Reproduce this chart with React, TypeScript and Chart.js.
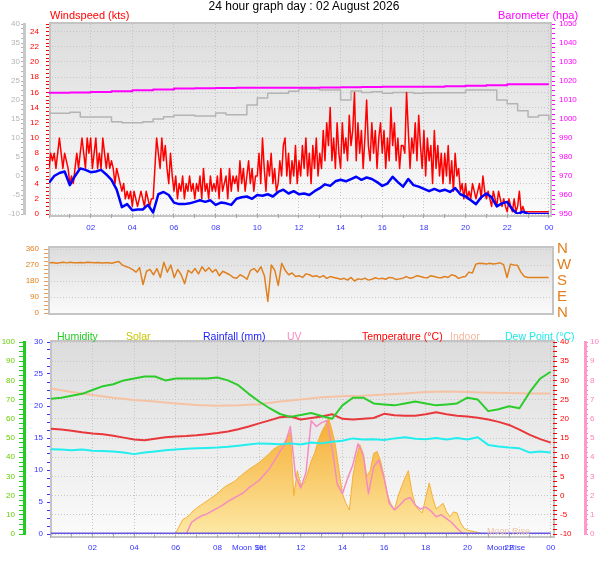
import { useEffect, useRef } from "react"
import { Chart, registerables } from "chart.js"

Chart.register(...registerables)

const FONT = "'Liberation Sans', Arial, sans-serif"

// hour axis labels (every 2 hours, 02 .. 00)
const hourLabels = ["02", "04", "06", "08", "10", "12", "14", "16", "18", "20", "22", "00"]
const compassLabels: Record<number, string> = { 0: "N", 90: "E", 180: "S", 270: "W", 360: "N" }

// ---------------- windspeed / barometer ----------------
// gust (kts), 5 minute samples, one row per hour
const windGust = [
  6, 8, 7, 8, 6, 8, 10, 8, 6, 8, 7, 6,
  4, 5, 4, 6, 8, 6, 8, 10, 8, 6, 10, 8,
  10, 6, 8, 10, 6, 8, 6, 10, 8, 6, 8, 6,
  7, 6, 4, 6, 5, 4, 3, 4, 2, 3, 2, 3,
  1, 3, 2, 1, 2, 3, 2, 1, 3, 2, 1, 2,
  2, 6, 10, 8, 6, 10, 7, 9, 6, 4, 8, 5,
  3, 5, 2, 4, 3, 5, 2, 4, 3, 5, 3, 4,
  2, 4, 3, 5, 2, 6, 3, 4, 2, 5, 3, 4,
  3, 5, 2, 6, 3, 4, 5, 2, 6, 3, 5, 4,
  5, 3, 7, 4, 6, 3, 5, 7, 4, 6, 3, 5,
  5, 8, 4, 10, 6, 3, 7, 5, 8, 4, 6, 3,
  4, 7, 5, 9, 10, 5, 8, 4, 7, 5, 9, 4,
  7, 5, 9, 6, 10, 5, 8, 4, 9, 6, 10, 5,
  8, 6, 11, 7, 12, 9, 14, 7, 10, 6, 12, 8,
  6, 12, 8, 10, 7, 13, 9, 11, 16, 7, 12, 8,
  11, 6, 10, 15, 9, 7, 12, 8, 11, 6, 10, 12,
  8, 11, 6, 10, 7, 14, 9, 12, 7, 10, 6, 9,
  9, 8, 16, 11, 6, 10, 8, 12, 7, 13, 9, 6,
  11, 5, 10, 7, 9, 4, 11, 6, 9, 5, 8, 4,
  8, 5, 9, 4, 7, 3, 8, 5, 6, 3, 4, 2,
  4, 2, 3, 2, 4, 3, 2, 3, 4, 2, 5, 3,
  2, 3, 2, 1, 3, 2, 1, 3, 2, 1, 2, 1,
  0.3, 2, 1, 0.3, 2, 0.3, 1, 3, 0.3, 1, 0.3, 0.3,
  0.3, 0.3, 0.3, 0.3, 0.3, 0.3, 0.3, 0.3, 0.3, 0.3, 0.3, 0.3,
  0.3,
]

// average speed (kts), 15 minute samples
const windAvg = [
  4.1, 5.0, 5.4, 5.6,
  3.8, 5.0, 6.0, 5.8,
  5.5, 5.6, 5.8, 5.2,
  4.5, 3.2, 0.9, 1.3,
  0.5, 0.6, 0.6, 1.2,
  0.2, 2.6, 2.9, 2.5,
  1.5, 1.3, 1.3, 1.4,
  1.6, 1.8, 1.6, 1.8,
  1.2, 1.5, 1.4, 1.2,
  2.0, 2.2, 2.3, 2.0,
  2.5, 2.4, 2.6, 2.3,
  2.9, 3.2, 2.7, 3.0,
  2.6, 2.7, 2.5, 3.0,
  3.4, 3.9, 3.7, 4.3,
  4.5, 4.3, 4.6, 4.9,
  4.5, 4.8, 4.6, 4.2,
  3.7, 4.0, 4.9, 4.2,
  3.6, 4.6, 3.8, 3.6,
  3.3, 3.0, 3.3, 3.0,
  3.2, 2.9, 3.4, 2.6,
  2.3, 1.8, 1.3, 2.2,
  2.7, 2.2, 1.0, 1.4,
  1.6, 0.6, 0.0, 0.3,
  0, 0, 0, 0,
  0,
]

// grey trace on the -10..40 scale, 30 minute samples
const greyTrace = [
  16.5, 16.5, 16.8, 15.5, 15.5, 15.5, 14.3, 14.0, 14.0, 14.3,
  15.0, 15.6, 16.0, 16.0, 15.8, 15.8, 16.6, 16.1, 16.1, 18.7,
  20.5, 21.8, 21.8, 22.3, 22.9, 22.9, 22.6, 22.6, 20.0, 22.4,
  22.0, 22.2, 21.8, 22.0, 22.0, 21.8, 21.9, 21.9, 21.9, 21.9,
  22.6, 22.6, 22.6, 20.0, 19.0, 17.2, 15.5, 16.0, 14.7,
]

// barometer (hpa), hourly
const barometer = [
  1013.8, 1013.9, 1014.2, 1014.6, 1015.1, 1015.5, 1016.0, 1016.2, 1016.3, 1016.4,
  1016.5, 1016.5, 1016.5, 1016.6, 1016.7, 1016.8, 1017.0, 1017.0, 1017.0, 1017.2,
  1017.5, 1017.8, 1018.3, 1018.3, 1018.3,
]

// ---------------- wind direction ----------------
// degrees, 10 minute samples, one row per hour
const windDir = [
  282, 284, 280, 283, 285, 282,
  285, 283, 282, 284, 283, 285,
  284, 282, 284, 281, 283, 282,
  280, 285, 290, 270, 262, 255,
  244, 230, 255, 160, 235, 245,
  215, 250, 200, 285, 230, 270,
  200, 245, 215, 165, 240, 225,
  250, 220, 260, 235, 255, 230,
  245, 210, 235, 225, 215, 200,
  195, 215, 205, 190, 240, 250,
  230, 260, 210, 65, 270, 240,
  155, 280, 240, 215, 225, 205,
  210, 200, 220, 215, 205, 210,
  200, 210, 195, 205, 200, 195,
  190, 195, 185, 200, 180, 192,
  188, 196, 185, 190, 198, 192,
  195, 190, 200, 198, 188, 192,
  196, 205, 195, 200, 210, 205,
  200, 198, 210, 205, 200, 198,
  205, 200, 215, 210, 195, 202,
  205, 230, 225, 275, 280, 278,
  275, 280, 276, 278, 282, 272,
  200, 275, 270, 268, 230, 205,
  200, 200, 200, 200, 200, 200,
  200,
]

// ---------------- temperature / humidity / solar ----------------
// humidity (%), 30 minute samples
const humidity = [
  70.5, 71, 72, 73, 75, 77, 78, 80, 81, 82,
  82, 80, 81, 81, 81, 81, 81.5, 80, 77.5, 73,
  69, 65.5, 62.5, 61, 62, 63, 61.5, 60, 67, 71,
  71, 68, 67.5, 67, 68, 69, 68, 67, 67.5, 68,
  71, 70, 64, 65, 66.5, 65.5, 74, 81, 84.5,
]

// outdoor temperature (°C), 30 minute samples
const temperature = [
  17.4, 17.2, 16.9, 16.5, 16.2, 16.0, 15.6, 15.1, 14.6, 14.4,
  14.8, 15.2, 15.4, 15.5, 15.7, 16.0, 16.3, 16.7, 17.3, 18.0,
  18.8, 19.6, 20.4, 20.6, 19.8, 20.2, 20.6, 21.2, 20.0, 19.8,
  20.0, 20.2, 21.3, 20.9, 20.8, 20.8, 21.2, 21.7, 21.2, 20.8,
  20.6, 20.3, 19.8, 19.2, 18.4, 17.2, 15.8, 14.7, 13.8,
]

// dew point (°C), 30 minute samples
const dewPoint = [
  12.1, 12.0, 11.8, 12.0, 11.7, 11.6, 11.5, 11.2, 10.8, 11.2,
  11.5, 11.8, 12.0, 12.2, 12.3, 12.4, 12.5, 12.7, 13.0, 13.3,
  13.6, 13.5, 13.4, 13.6, 13.3, 13.8, 13.6, 14.0, 14.3, 14.9,
  14.6, 14.7, 14.5, 14.9, 15.2, 14.8, 14.7, 15.0, 14.6, 15.0,
  14.6, 15.2, 13.2, 12.8, 12.5, 12.3, 11.2, 11.5, 11.2,
]

// indoor temperature (°C), hourly
const indoorTemp = [
  27.9, 27.0, 26.2, 25.5, 24.9, 24.5, 24.0, 23.6, 23.4, 23.5,
  23.8, 24.5, 25.0, 25.6, 25.9, 26.0, 26.3, 26.6, 27.0, 27.1,
  27.0, 26.8, 26.7, 26.6, 26.6,
]

// solar radiation (W/m2), 10 minute samples, one row per hour
const solar = [
  0, 0, 0, 0, 0, 0,
  0, 0, 0, 0, 0, 0,
  0, 0, 0, 0, 0, 0,
  0, 0, 0, 0, 0, 0,
  0, 0, 0, 0, 0, 0,
  0, 0, 0, 0, 0, 0,
  5, 40, 75, 85, 100, 120,
  135, 148, 160, 172, 185, 198,
  210, 228, 244, 255, 265, 275,
  292, 307, 322, 336, 348, 360,
  372, 388, 404, 420, 440, 452,
  460, 470, 500, 531, 200, 330,
  255, 266, 320, 380, 422, 485,
  531, 565, 604, 540, 460, 333,
  210, 160, 125, 300, 400, 465,
  420, 300, 330, 420, 430, 380,
  300, 200, 155, 125, 195, 245,
  292, 330, 220, 150, 125, 110,
  190, 266, 190, 130, 145, 160,
  115, 90, 115, 110, 60, 30,
  20, 16, 12, 8, 3, 0,
  0, 0, 0, 0, 0, 0,
  0, 0, 0, 0, 0, 0,
  0, 0, 0, 0, 0, 0,
  0,
]

// UV index, 15 minute samples
const uvIndex = [
  0, 0, 0, 0, 0, 0, 0, 0, 0, 0, 0, 0,
  0, 0, 0, 0, 0, 0, 0, 0, 0, 0, 0, 0,
  0, 0, 0, 0.6,
  0.8, 0.95, 1.05, 1.2,
  1.35, 1.5, 1.7, 1.85,
  2.0, 2.15, 2.4, 2.6,
  2.8, 3.1, 3.4, 3.85,
  4.3, 4.7, 5.6, 3.0,
  2.4, 3.2, 5.9, 5.6,
  5.8, 5.9, 4.5, 2.6,
  2.1, 2.9, 3.6, 4.7,
  4.1, 2.1, 3.5, 3.85,
  2.9, 1.6, 1.25, 1.5,
  1.8, 1.9, 1.5, 1.3,
  1.4, 1.2, 0.9, 1.0,
  0.8, 0.6, 0.3, 0.05,
  0, 0, 0, 0, 0, 0, 0, 0, 0, 0, 0, 0, 0, 0, 0, 0,
  0,
]

// rainfall (mm), hourly
const rainfall = [0, 0, 0, 0, 0, 0, 0, 0, 0, 0, 0, 0, 0, 0, 0, 0, 0, 0, 0, 0, 0, 0, 0, 0, 0]

// evenly spaced samples over the 24 hours
function series(values: number[]) {
  const step = 24 / (values.length - 1)
  return values.map((y, i) => ({ x: i * step, y }))
}

const onMultiple = (v: number, m: number) => Math.abs(v / m - Math.round(v / m)) < 1e-6

const panelBox = {
  id: "panelBox",
  beforeDraw(chart: any, _args: any, o: any) {
    const a = chart.chartArea
    if (!a) return
    const { ctx } = chart
    const l = a.left - (o.l || 0)
    const r = a.right + (o.r || 0)
    const t = a.top - (o.t || 0)
    const b = a.bottom + (o.b || 0)
    const g = ctx.createLinearGradient(0, t, 0, b)
    g.addColorStop(0, "#dcdcdc")
    g.addColorStop(0.5, "#ebebeb")
    g.addColorStop(1, "#fbfbfb")
    ctx.save()
    ctx.fillStyle = g
    ctx.fillRect(l, t, r - l, b - t)
    ctx.strokeStyle = "#c4c4c4"
    ctx.lineWidth = 2
    ctx.strokeRect(l + 1, t + 1, r - l - 2, b - t - 2)
    ctx.restore()
  },
}

type AxisOpts = {
  position: "left" | "right"
  weight?: number
  width: number
  min: number
  max: number
  step: number
  every: number
  color: string
  tickColor?: string
  tickLength: number
  padding: number
  border?: { color: string; width: number }
  grid?: boolean
  fontSize?: number
  label?: (v: number) => string
}

function yAxis(o: AxisOpts) {
  return {
    type: "linear",
    position: o.position,
    weight: o.weight ?? 0,
    min: o.min,
    max: o.max,
    afterFit: (s: any) => {
      s.width = o.width
    },
    border: { display: !!o.border, color: o.border?.color, width: o.border?.width ?? 1, dash: [1, 2] },
    grid: {
      drawOnChartArea: !!o.grid,
      drawTicks: o.tickLength > 0,
      tickLength: o.tickLength,
      tickColor: o.tickColor ?? o.color,
      color: (c: any) => (c.tick && onMultiple(c.tick.value, o.every) ? "#c8c8c8" : "rgba(0,0,0,0)"),
    },
    ticks: {
      stepSize: o.step,
      includeBounds: false,
      autoSkip: false,
      padding: o.padding,
      color: o.color,
      font: { family: FONT, size: o.fontSize ?? 8 },
      callback: (v: any) => {
        const n = Number(v)
        if (!onMultiple(n, o.every)) return ""
        return o.label ? o.label(n) : String(Math.round(n))
      },
    },
  }
}

function timeAxis(min: number, max: number, height: number) {
  return {
    type: "linear",
    min,
    max,
    afterFit: (s: any) => {
      s.height = height
    },
    border: { display: false, dash: [1, 2] },
    grid: {
      tickLength: 4,
      tickColor: "#a8a8a8",
      color: (c: any) => (c.tick && c.tick.value % 2 === 0 ? "#c4c4c4" : "rgba(0,0,0,0)"),
    },
    ticks: {
      stepSize: 1,
      includeBounds: false,
      autoSkip: false,
      maxRotation: 0,
      padding: 5,
      color: "#3333ff",
      font: { family: FONT, size: 8 },
      callback: (v: any) => {
        const n = Number(v)
        return n > 0 && n % 2 === 0 ? hourLabels[n / 2 - 1] : ""
      },
    },
  }
}

function baseOptions(padding: any, box: any, scales: any) {
  return {
    responsive: false,
    maintainAspectRatio: false,
    animation: false,
    events: [],
    layout: { padding },
    elements: {
      point: { radius: 0 },
      line: { tension: 0, borderJoinStyle: "round", fill: false },
    },
    plugins: { legend: { display: false }, tooltip: { enabled: false }, panelBox: box },
    scales,
  }
}

function windConfig(): any {
  return {
    type: "line",
    data: {
      datasets: [
        { data: series(windAvg), yAxisID: "kts", borderColor: "#0000ff", borderWidth: 2.5 },
        { data: series(windGust), yAxisID: "kts", borderColor: "#ff0000", borderWidth: 1.5 },
        { data: series(barometer), yAxisID: "hpa", borderColor: "#ff00ff", borderWidth: 2, stepped: true },
        { data: series(greyTrace), yAxisID: "grey", borderColor: "#b4b4b4", borderWidth: 1.5, stepped: true },
      ],
    },
    options: baseOptions({ top: 24, left: 0, right: 0, bottom: 0 }, { t: 2, b: 3 }, {
      x: timeAxis(0, 24.15, 22),
      kts: yAxis({ position: "left", weight: 0, width: 25, min: 0, max: 25, step: 0.5, every: 2, color: "#ff0000", tickLength: 3, padding: 7, grid: true }),
      grey: yAxis({ position: "left", weight: 1, width: 24, min: -10, max: 40, step: 1.25, every: 5, color: "#b4b4b4", tickLength: 3, padding: 1, border: { color: "#c8c8c8", width: 3 } }),
      hpa: yAxis({ position: "right", width: 56, min: 950, max: 1050, step: 2.5, every: 10, color: "#ff00ff", tickLength: 3, padding: 4 }),
    }),
    plugins: [panelBox],
  }
}

function directionConfig(): any {
  return {
    type: "line",
    data: {
      datasets: [{ data: series(windDir), yAxisID: "deg", borderColor: "#e08020", borderWidth: 1.5 }],
    },
    options: baseOptions({ top: 9, left: 0, right: 0, bottom: 12 }, { t: 3, b: 2, r: 1 }, {
      x: { type: "linear", display: false, min: -0.07, max: 24.21 },
      deg: yAxis({ position: "left", width: 48, min: 0, max: 360, step: 22.5, every: 90, color: "#e08020", tickColor: "#e8a060", tickLength: 4, padding: 5, grid: true }),
      compass: yAxis({ position: "right", width: 55, min: 0, max: 360, step: 90, every: 90, color: "#e08020", tickLength: 0, padding: 4, fontSize: 15, label: (v) => compassLabels[v] }),
    }),
    plugins: [panelBox],
  }
}

function solarFill(c: any) {
  const { chart } = c
  const area = chart.chartArea
  if (!area) return "#f8d070"
  const g = chart.ctx.createLinearGradient(0, area.top + area.height * 0.4, 0, area.bottom)
  g.addColorStop(0, "#f5ad33")
  g.addColorStop(1, "#fde8a4")
  return g
}

function climateConfig(): any {
  return {
    type: "line",
    data: {
      datasets: [
        { data: series(rainfall), yAxisID: "rain", borderColor: "#6658e0", borderWidth: 3 },
        { data: series(humidity), yAxisID: "hum", borderColor: "#2ccc2c", borderWidth: 2 },
        { data: series(temperature), yAxisID: "temp", borderColor: "#e8383c", borderWidth: 2 },
        { data: series(dewPoint), yAxisID: "temp", borderColor: "#22eeee", borderWidth: 2 },
        { data: series(indoorTemp), yAxisID: "temp", borderColor: "#f5c2a4", borderWidth: 2 },
        { data: series(uvIndex), yAxisID: "uv", borderColor: "#f58cc0", borderWidth: 1.5 },
        { data: series(solar), yAxisID: "solar", borderColor: "#f5b035", borderWidth: 1, fill: "origin", backgroundColor: solarFill },
      ],
    },
    options: baseOptions({ top: 14, left: 0, right: 0, bottom: 0 }, { t: 2, b: 4, r: 2 }, {
      x: timeAxis(-0.04, 24.11, 27),
      rain: yAxis({ position: "left", weight: 0, width: 26, min: 0, max: 30, step: 1.25, every: 5, color: "#3333ff", tickLength: 3, padding: 4 }),
      hum: yAxis({ position: "left", weight: 1, width: 24, min: 0, max: 100, step: 2.5, every: 10, color: "#66cc00", tickColor: "#22cc22", tickLength: 5, padding: 4, border: { color: "#22cc22", width: 3 }, grid: true }),
      temp: yAxis({ position: "right", weight: 0, width: 32, min: -10, max: 40, step: 1.25, every: 5, color: "#ff0000", tickLength: 4, padding: 3 }),
      uv: yAxis({ position: "right", weight: 1, width: 23, min: 0, max: 10, step: 0.25, every: 1, color: "#ff80c0", tickLength: 3, padding: 2, border: { color: "#ff99cc", width: 3 } }),
      solar: { type: "linear", display: false, min: 0, max: 1000 },
    }),
    plugins: [panelBox],
  }
}

function Panel({ top, height, config }: { top: number; height: number; config: () => any }) {
  const ref = useRef<HTMLCanvasElement>(null)
  useEffect(() => {
    if (!ref.current) return
    const chart = new Chart(ref.current, config())
    return () => chart.destroy()
  }, [config])
  return (
    <canvas
      ref={ref}
      width={608}
      height={height}
      style={{ position: "absolute", left: 0, top, width: 608, height }}
    />
  )
}

const text = (left: number, top: number, color: string, size: number) => ({
  position: "absolute" as const,
  left,
  top,
  color,
  fontSize: size,
  lineHeight: `${size}px`,
  whiteSpace: "nowrap" as const,
})

export default function App() {
  return (
    <div
      style={{
        position: "absolute",
        left: 0,
        top: 0,
        width: 608,
        height: 561,
        background: "#ffffff",
        overflow: "hidden",
        fontFamily: FONT,
      }}
    >
      <Panel top={0} height={236} config={windConfig} />
      <Panel top={236} height={90} config={directionConfig} />
      <Panel top={328} height={233} config={climateConfig} />

      <div style={{ ...text(0, 0, "#000000", 12), width: 608, textAlign: "center" }}>
        24 hour graph day : 02 August 2026
      </div>
      <span style={text(50, 10, "#ff0000", 11)}>Windspeed (kts)</span>
      <span style={text(498, 10, "#ff00ff", 11)}>Barometer (hpa)</span>

      <span style={text(57, 331, "#22cc22", 10.5)}>Humidity</span>
      <span style={text(126, 331, "#c8c400", 10.5)}>Solar</span>
      <span style={text(203, 331, "#2020ff", 10.5)}>Rainfall (mm)</span>
      <span style={text(287, 331, "#ff88c4", 10.5)}>UV</span>
      <span style={text(362, 331, "#ff0000", 10.5)}>Temperature (°C)</span>
      <span style={text(450, 331, "#f5b8a0", 10.5)}>Indoor</span>
      <span style={text(505, 331, "#22e8e8", 10.5)}>Dew Point (°C)</span>

      <span style={text(232, 544, "#3333ff", 8)}>Moon Set</span>
      <span style={text(487, 544, "#3333ff", 8)}>Moon Rise</span>
      <span style={text(487, 527, "#f2c4a8", 9)}>Moon Rise</span>
    </div>
  )
}
